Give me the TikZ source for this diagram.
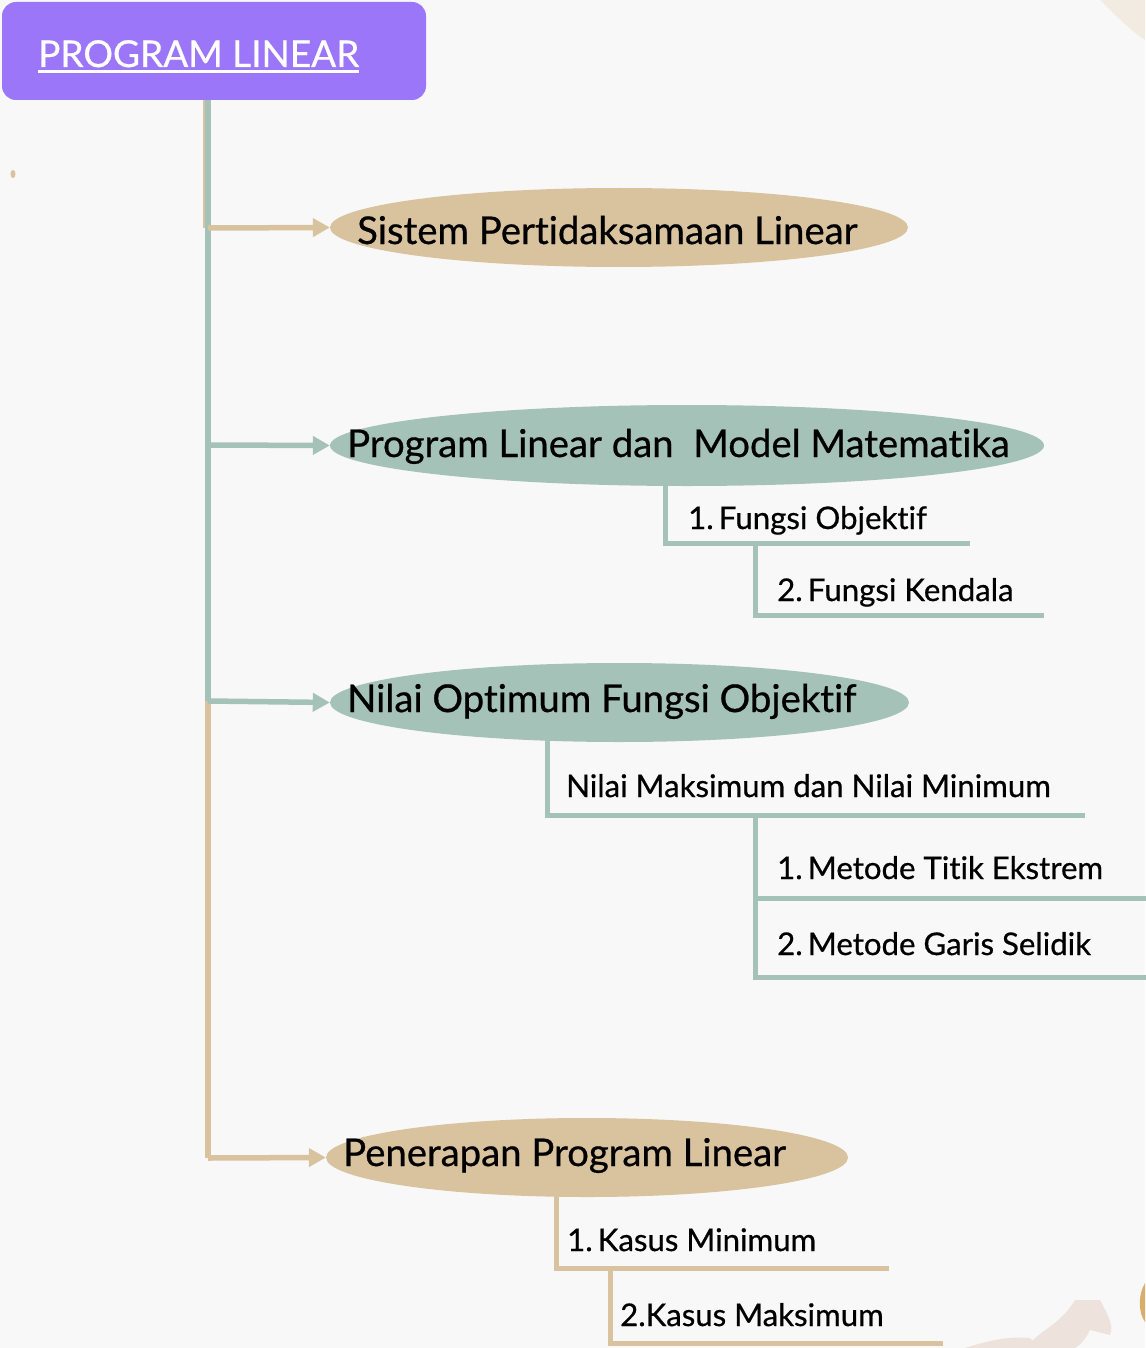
\documentclass[tikz,border=0pt]{standalone}
\usepackage{fontspec}
\setmainfont{Lato}[RawFeature={-liga,-dlig,-clig}, FakeBold=0.6]
\usetikzlibrary{shapes.geometric,arrows.meta,calc}
\definecolor{bgc}{HTML}{F8F8F8}
\definecolor{purp}{HTML}{9B76F8}
\definecolor{tan}{HTML}{D9C29E}
\definecolor{sage}{HTML}{A5C2B8}
\definecolor{blob}{HTML}{EDE3DC}
\definecolor{blob2}{HTML}{F2EBE1}
\definecolor{gold}{HTML}{D9AE6A}
\tikzset{
  oval/.style={ellipse, inner sep=0pt},
  bigtext/.style={anchor=base west, inner sep=0pt, font=\fontsize{38.3}{46}\selectfont},
  subtext/.style={anchor=base west, inner sep=0pt, font=\fontsize{31.2}{37}\selectfont},
  spine/.style={line width=6pt},
  branch/.style={line width=5.5pt, -{Triangle[length=17pt,width=18pt]}},
  subline/.style={line width=5pt, line cap=rect},
}
\begin{document}
\begin{tikzpicture}[x=1pt,y=-1pt]
\fill[bgc] (0,0) rectangle (1145,1348);
\useasboundingbox (0,0) rectangle (1145,1348);
% faint decorations
\fill[blob2] (1100,0) .. controls (1115,15) and (1130,30) .. (1145,40) -- (1145,0) -- cycle;
\fill[blob] (965,1348) .. controls (990,1340) and (1010,1336) .. (1030,1338) -- (1040,1348) -- cycle;
\fill[blob] (1025,1348) .. controls (1040,1330) and (1060,1325) .. (1075,1300) -- (1100,1300) .. controls (1105,1310) and (1115,1325) .. (1110,1335) -- (1090,1330) .. controls (1085,1340) and (1080,1345) .. (1075,1348) -- cycle;
\fill[gold] (1145,1283) .. controls (1138,1295) and (1138,1312) .. (1145,1322) -- cycle;
\fill[tan] (13,174) ellipse (2.5pt and 4pt);
% title
\node[fill=purp, rounded corners=14pt, minimum width=424pt, minimum height=98pt, inner sep=0pt] (title) at (214,51) {};
\node[anchor=base west, inner sep=0pt, text=white, font=\fontsize{37}{44}\selectfont] (ttext) at (38,67) {PROGRAM LINEAR};
\draw[white, line width=3pt] (ttext.base west) ++(0,5) coordinate (u1) -- (ttext.base east |- u1);
% ovals
\node[oval, fill=tan, minimum width=578pt, minimum height=79pt] (e1) at (619,227.5) {};
\node[oval, fill=sage, minimum width=714pt, minimum height=81pt] (e2) at (687,445.5) {};
\node[oval, fill=sage, minimum width=579pt, minimum height=79pt] (e3) at (619.5,702.5) {};
\node[oval, fill=tan, minimum width=522pt, minimum height=79pt] (e4) at (587,1157.5) {};
\node[bigtext] (t1) at (357,244) {Sistem Pertidaksamaan Linear};
\node[bigtext] (t2) at (347,457) {Program Linear dan\ \ Model Matematika};
\node[bigtext] (t3) at (347,712) {Nilai Optimum Fungsi Objektif};
\node[bigtext] (t4) at (343,1166) {Penerapan Program Linear};
% sub texts
\node[subtext] (s1) at (688,529) {1.\,Fungsi Objektif};
\node[subtext] (s2) at (777,601) {2.\,Fungsi Kendala};
\node[subtext] (s3) at (566,797) {Nilai Maksimum dan Nilai Minimum};
\node[subtext] (s4) at (777,879) {1.\,Metode Titik Ekstrem};
\node[subtext] (s5) at (777,955) {2.\,Metode Garis Selidik};
\node[subtext] (s6) at (567,1251) {1.\,Kasus Minimum};
\node[subtext] (s7) at (620,1326) {2.Kasus Maksimum};
% spine coordinates
\coordinate (top) at (208,100);
\coordinate (j1) at (208,228);
\coordinate (j2) at (208,445);
\coordinate (j3) at (208,701);
\coordinate (j4) at (208,1158);
\draw[tan, line width=6pt] ($(top)+(-2,0)$) -- ($(j1)+(-2,0)$);
\draw[sage, spine] (top) -- (j3);
\draw[tan, spine] (j3) -- (j4);
\draw[tan, branch] (j1) -- (e1.west);
\draw[sage, branch] (j2) -- (e2.west);
\draw[sage, branch] (j3) -- (e3.west);
\draw[tan, branch] (j4) -- (e4.west);
% sub branches
\coordinate (h1) at (967,543);
\coordinate (h2) at (1041,615);
\coordinate (h3) at (1082,815);
\coordinate (h4) at (1145,898);
\coordinate (h5) at (1145,977);
\coordinate (h6) at (886,1268);
\coordinate (h7) at (940,1343);
\draw[sage, subline] (e2.south -| 665,0) |- (h1);
\draw[sage, subline] (h1 -| 755,0) |- (h2);
\draw[sage, subline] (e3.south -| 547,0) |- (h3);
\draw[sage, subline] (h3 -| 755,0) |- (h5);
\draw[sage, subline] (h4 -| 755,0) -- (h4);
\draw[tan, subline] (e4.south -| 556,0) |- (h6);
\draw[tan, subline] (h6 -| 610,0) |- (h7);
\end{tikzpicture}
\end{document}
